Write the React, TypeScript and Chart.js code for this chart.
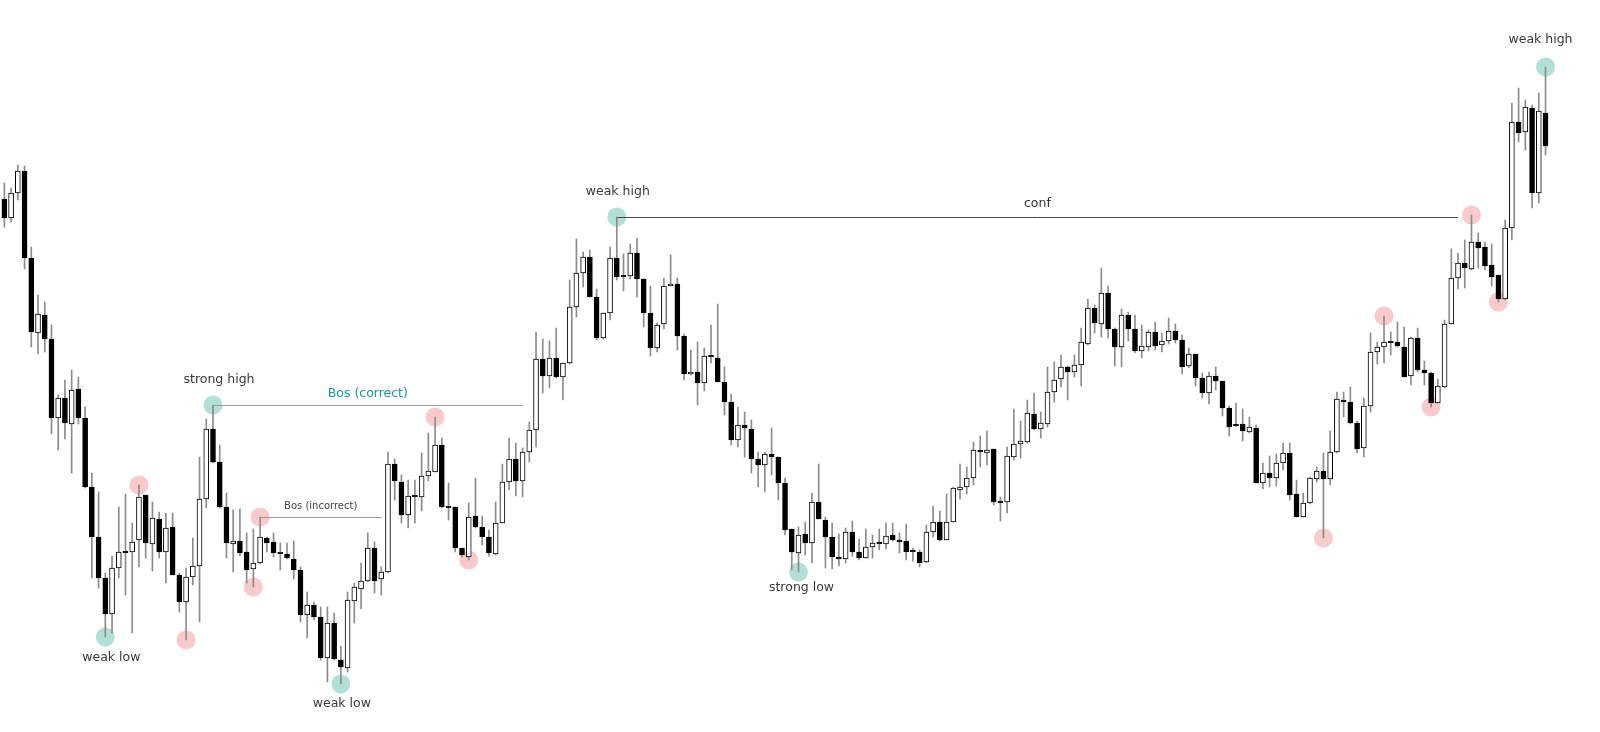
import React, { useEffect, useRef } from "react";
import { Chart, registerables } from "chart.js";

Chart.register(...registerables);

// ---- OHLC data (price units), candles 1..230 ----
const opens = [
  541, 522, 547, 569, 482, 407, 425, 401, 322, 342,
  316, 351, 322, 253, 203, 162, 126, 172, 188, 188,
  200, 245, 196, 221, 188, 213, 165, 138, 163, 174,
  241, 311, 278, 233, 196, 199, 188, 171, 177, 202,
  198, 187, 186, 181, 170, 125, 135, 123, 82, 117,
  80, 72, 139, 151, 159, 192, 161, 168, 276, 258,
  225, 244, 243, 264, 268, 295, 233, 233, 192, 183,
  224, 213, 203, 186, 217, 258, 281, 259, 288, 310,
  381, 364, 382, 363, 377, 433, 467, 483, 443, 402,
  427, 482, 464, 464, 487, 461, 427, 392, 416, 454,
  456, 404, 366, 368, 357, 384, 382, 358, 338, 300,
  315, 311, 281, 275, 286, 283, 257, 211, 187, 206,
  197, 238, 220, 203, 183, 181, 208, 188, 182, 193,
  198, 196, 205, 200, 199, 189, 188, 178, 208, 218,
  200, 218, 250, 253, 262, 290, 287, 291, 238, 238,
  283, 296, 298, 326, 311, 316, 348, 361, 373, 368,
  375, 396, 432, 416, 447, 411, 393, 425, 411, 389,
  393, 408, 395, 399, 409, 400, 374, 386, 362, 347,
  364, 359, 332, 315, 316, 308, 312, 257, 267, 262,
  277, 287, 246, 223, 237, 261, 269, 261, 288, 340,
  338, 317, 292, 334, 388, 393, 398, 398, 393, 364,
  402, 370, 367, 337, 353, 416, 462, 477, 471, 498,
  493, 475, 465, 441, 512, 618, 608, 632, 547, 627,
];
const highs = [
  557, 552, 575, 574, 493, 445, 438, 415, 345, 360,
  370, 363, 333, 267, 248, 167, 184, 233, 246, 217,
  255, 245, 238, 228, 227, 227, 167, 172, 202, 283,
  321, 335, 295, 247, 230, 231, 207, 211, 223, 203,
  207, 197, 197, 199, 173, 148, 138, 133, 133, 127,
  94, 148, 157, 177, 207, 198, 173, 288, 281, 265,
  260, 260, 287, 307, 323, 302, 257, 233, 192, 237,
  262, 224, 210, 238, 276, 302, 297, 292, 318, 408,
  401, 399, 412, 377, 460, 501, 488, 490, 451, 427,
  493, 523, 486, 496, 502, 461, 454, 417, 462, 485,
  462, 406, 390, 398, 392, 415, 436, 373, 346, 333,
  328, 320, 288, 288, 312, 283, 262, 211, 213, 218,
  247, 276, 223, 217, 206, 212, 219, 201, 211, 205,
  211, 217, 217, 207, 216, 192, 190, 215, 234, 229,
  246, 253, 276, 273, 298, 304, 309, 291, 243, 293,
  331, 319, 340, 347, 328, 373, 378, 385, 374, 385,
  412, 441, 435, 472, 454, 412, 431, 428, 425, 415,
  410, 418, 407, 422, 416, 405, 392, 386, 367, 368,
  373, 359, 334, 337, 331, 323, 315, 277, 284, 286,
  297, 297, 260, 247, 263, 273, 287, 309, 348, 348,
  353, 319, 342, 407, 398, 424, 408, 418, 413, 403,
  412, 379, 368, 361, 420, 491, 487, 500, 525, 507,
  498, 496, 465, 520, 637, 652, 640, 635, 647, 673,
];
const lows = [
  513, 518, 540, 471, 393, 386, 388, 306, 290, 301,
  267, 316, 252, 162, 152, 103, 107, 162, 145, 107,
  173, 182, 169, 182, 157, 165, 128, 100, 155, 118,
  232, 277, 232, 182, 168, 184, 157, 153, 176, 188,
  183, 170, 181, 161, 118, 102, 120, 80, 58, 80,
  56, 68, 117, 131, 158, 147, 145, 167, 240, 217,
  212, 217, 229, 259, 268, 232, 220, 188, 183, 180,
  212, 195, 184, 185, 217, 250, 244, 243, 278, 293,
  347, 352, 362, 340, 376, 423, 453, 443, 400, 401,
  420, 460, 449, 461, 443, 413, 384, 388, 411, 454,
  390, 360, 365, 335, 349, 377, 358, 325, 295, 293,
  283, 267, 253, 248, 265, 240, 205, 170, 168, 185,
  177, 221, 172, 171, 174, 177, 184, 180, 182, 182,
  190, 191, 199, 187, 180, 179, 173, 177, 203, 199,
  200, 218, 241, 246, 255, 273, 275, 235, 219, 227,
  280, 282, 297, 310, 302, 313, 338, 353, 340, 363,
  354, 395, 407, 403, 402, 374, 373, 399, 387, 382,
  389, 390, 388, 396, 397, 366, 372, 354, 342, 336,
  350, 324, 304, 313, 299, 307, 257, 251, 253, 254,
  270, 240, 223, 223, 236, 258, 202, 255, 287, 323,
  316, 287, 283, 328, 376, 377, 385, 393, 363, 355,
  368, 355, 333, 337, 352, 416, 451, 452, 470, 472,
  470, 454, 438, 440, 500, 598, 590, 532, 537, 585,
];
const closes = [
  522, 547, 569, 482, 408, 426, 401, 322, 342, 317,
  350, 322, 253, 203, 162, 126, 172, 188, 188, 198,
  243, 197, 222, 188, 212, 165, 138, 163, 174, 241,
  311, 278, 233, 197, 199, 187, 170, 177, 203, 197,
  187, 187, 182, 170, 125, 135, 123, 82, 117, 81,
  73, 140, 153, 159, 192, 159, 168, 276, 259, 225,
  244, 244, 264, 269, 295, 233, 233, 192, 185, 223,
  213, 203, 187, 217, 258, 281, 259, 288, 310, 381,
  364, 382, 363, 377, 433, 467, 483, 443, 402, 427,
  482, 463, 464, 487, 461, 427, 392, 415, 454, 456,
  404, 366, 368, 357, 384, 384, 358, 338, 300, 315,
  312, 281, 275, 286, 283, 257, 210, 188, 205, 197,
  238, 221, 203, 183, 181, 208, 188, 182, 193, 197,
  196, 204, 200, 198, 188, 189, 177, 208, 218, 200,
  218, 252, 253, 262, 290, 288, 290, 238, 238, 284,
  296, 299, 327, 311, 317, 348, 360, 373, 368, 375,
  398, 432, 417, 447, 411, 393, 425, 411, 389, 394,
  408, 394, 399, 409, 400, 373, 386, 362, 347, 364,
  359, 332, 313, 315, 309, 313, 257, 267, 262, 277,
  287, 245, 223, 237, 262, 269, 261, 288, 341, 338,
  317, 291, 334, 388, 393, 398, 398, 394, 363, 402,
  370, 367, 337, 354, 416, 462, 477, 472, 498, 492,
  474, 463, 441, 512, 618, 607, 633, 547, 629, 594,
];

// total time slots on the axis (empty slots on the right)
const SLOT_COUNT = 237;
const slotLabels = Array.from({ length: SLOT_COUNT }, (_, i) => String(i + 1));

// swing points (0-based candle index), side, and whether marked teal (key) or pink
const pivotBars = [15, 20, 27, 31, 37, 38, 50, 64, 69, 91, 118, 196, 205, 212, 218, 222, 229];
const pivotSides = ["L", "H", "L", "H", "L", "H", "L", "H", "L", "H", "L", "L", "H", "L", "H", "L", "H"];
const pivotKey = [true, false, false, true, false, false, true, false, false, true, true, false, false, false, false, false, true];

// labels of the key swing points
const pointLabelBars = [15, 31, 50, 91, 118, 229];
const pointLabelTexts = ["weak low", "strong high", "weak low", "weak high", "strong low", "weak high"];

// structure lines: start bar, end bar, text
const lineStarts = [31, 38, 91];
const lineEnds = [77, 56, 216];
const lineTexts = ["Bos (correct)", "Bos (incorrect)", "conf"];

// styles (not data)
const FONT = "'DejaVu Sans', sans-serif";
const LABEL_OFFSETS = [
  [6, 21], [6, -25], [1, 20], [1, -25], [3, 16], [-5, -27],
];
const LINE_STYLES = [
  { color: "#9a9a9a", textColor: "#169e89", font: `12.5px ${FONT}`, dy: -11 },
  { color: "#9a9a9a", textColor: "#444444", font: `10px ${FONT}`, dy: -11 },
  { color: "#4a4a4a", textColor: "#333333", font: `12.5px ${FONT}`, dy: -13 },
];

const overlayPlugin = {
  id: "overlay",
  beforeDatasetsDraw(chart: any) {
    const { ctx } = chart;
    const x = chart.scales.x;
    const y = chart.scales.y;
    ctx.save();
    pivotBars.forEach((bar, k) => {
      const price = pivotSides[k] === "H" ? highs[bar] : lows[bar];
      const px = x.getPixelForValue(bar);
      const py = y.getPixelForValue(price);
      ctx.beginPath();
      ctx.arc(px, py, 9.5, 0, Math.PI * 2);
      ctx.fillStyle = pivotKey[k] ? "#b2e0d7" : "#f9cacb";
      ctx.fill();
    });
    lineStarts.forEach((s, k) => {
      const price = highs[s];
      const x1 = x.getPixelForValue(s);
      const x2 = x.getPixelForValue(lineEnds[k]);
      const py = Math.round(y.getPixelForValue(price)) + 0.5;
      ctx.beginPath();
      ctx.moveTo(x1, py);
      ctx.lineTo(x2, py);
      ctx.strokeStyle = LINE_STYLES[k].color;
      ctx.lineWidth = 1;
      ctx.stroke();
    });
    ctx.restore();
  },
  afterDatasetsDraw(chart: any) {
    const { ctx } = chart;
    const x = chart.scales.x;
    const y = chart.scales.y;
    ctx.save();
    ctx.textAlign = "center";
    ctx.textBaseline = "middle";
    pointLabelBars.forEach((bar, k) => {
      const idx = pivotBars.indexOf(bar);
      const price = pivotSides[idx] === "H" ? highs[bar] : lows[bar];
      const px = x.getPixelForValue(bar) + LABEL_OFFSETS[k][0];
      const py = y.getPixelForValue(price) + LABEL_OFFSETS[k][1];
      ctx.font = `12.5px ${FONT}`;
      ctx.fillStyle = "#383838";
      ctx.fillText(pointLabelTexts[k], px, py);
    });
    lineStarts.forEach((s, k) => {
      const x1 = x.getPixelForValue(s);
      const x2 = x.getPixelForValue(lineEnds[k]);
      const py = y.getPixelForValue(highs[s]) + LINE_STYLES[k].dy;
      ctx.font = LINE_STYLES[k].font;
      ctx.fillStyle = LINE_STYLES[k].textColor;
      ctx.fillText(lineTexts[k], (x1 + x2) / 2, py);
    });
    ctx.restore();
  },
};

export default function App() {
  const canvasRef = useRef<HTMLCanvasElement | null>(null);

  useEffect(() => {
    document.body.style.margin = "0";
    const canvas = canvasRef.current;
    if (!canvas) return;

    const wickData = highs.map((h, i) => [lows[i], h]);
    const bodyData = opens.map((o, i) => {
      const c = closes[i];
      if (o === c) return [o - 0.6, o + 0.6];
      return [Math.min(o, c), Math.max(o, c)];
    });
    const bodyColors = opens.map((o, i) => (closes[i] > o ? "#ffffff" : "#000000"));

    const chart = new Chart(canvas, {
      type: "bar",
      data: {
        labels: slotLabels,
        datasets: [
          {
            label: "wick",
            data: wickData as any,
            backgroundColor: "#8c8c8c",
            borderWidth: 0,
            barThickness: 1,
            grouped: false,
            order: 2,
          } as any,
          {
            label: "body",
            data: bodyData as any,
            backgroundColor: bodyColors,
            borderColor: "#000000",
            borderWidth: 1,
            borderSkipped: false,
            barThickness: 5,
            grouped: false,
            order: 1,
          } as any,
        ],
      },
      options: {
        animation: false,
        responsive: true,
        maintainAspectRatio: false,
        devicePixelRatio: 1,
        events: [],
        layout: { padding: { left: 1, right: 4, top: 0, bottom: 0 } },
        plugins: {
          legend: { display: false },
          tooltip: { enabled: false },
        },
        scales: {
          x: { type: "category", display: false, offset: true, grid: { display: false } },
          y: { type: "linear", display: false, min: 8, max: 740, grid: { display: false } },
        },
      },
      plugins: [overlayPlugin],
    });

    return () => {
      chart.destroy();
    };
  }, []);

  return (
    <div
      style={{
        position: "fixed",
        left: 0,
        top: 0,
        width: "1600px",
        height: "732px",
        background: "#ffffff",
      }}
    >
      <canvas ref={canvasRef} />
    </div>
  );
}
